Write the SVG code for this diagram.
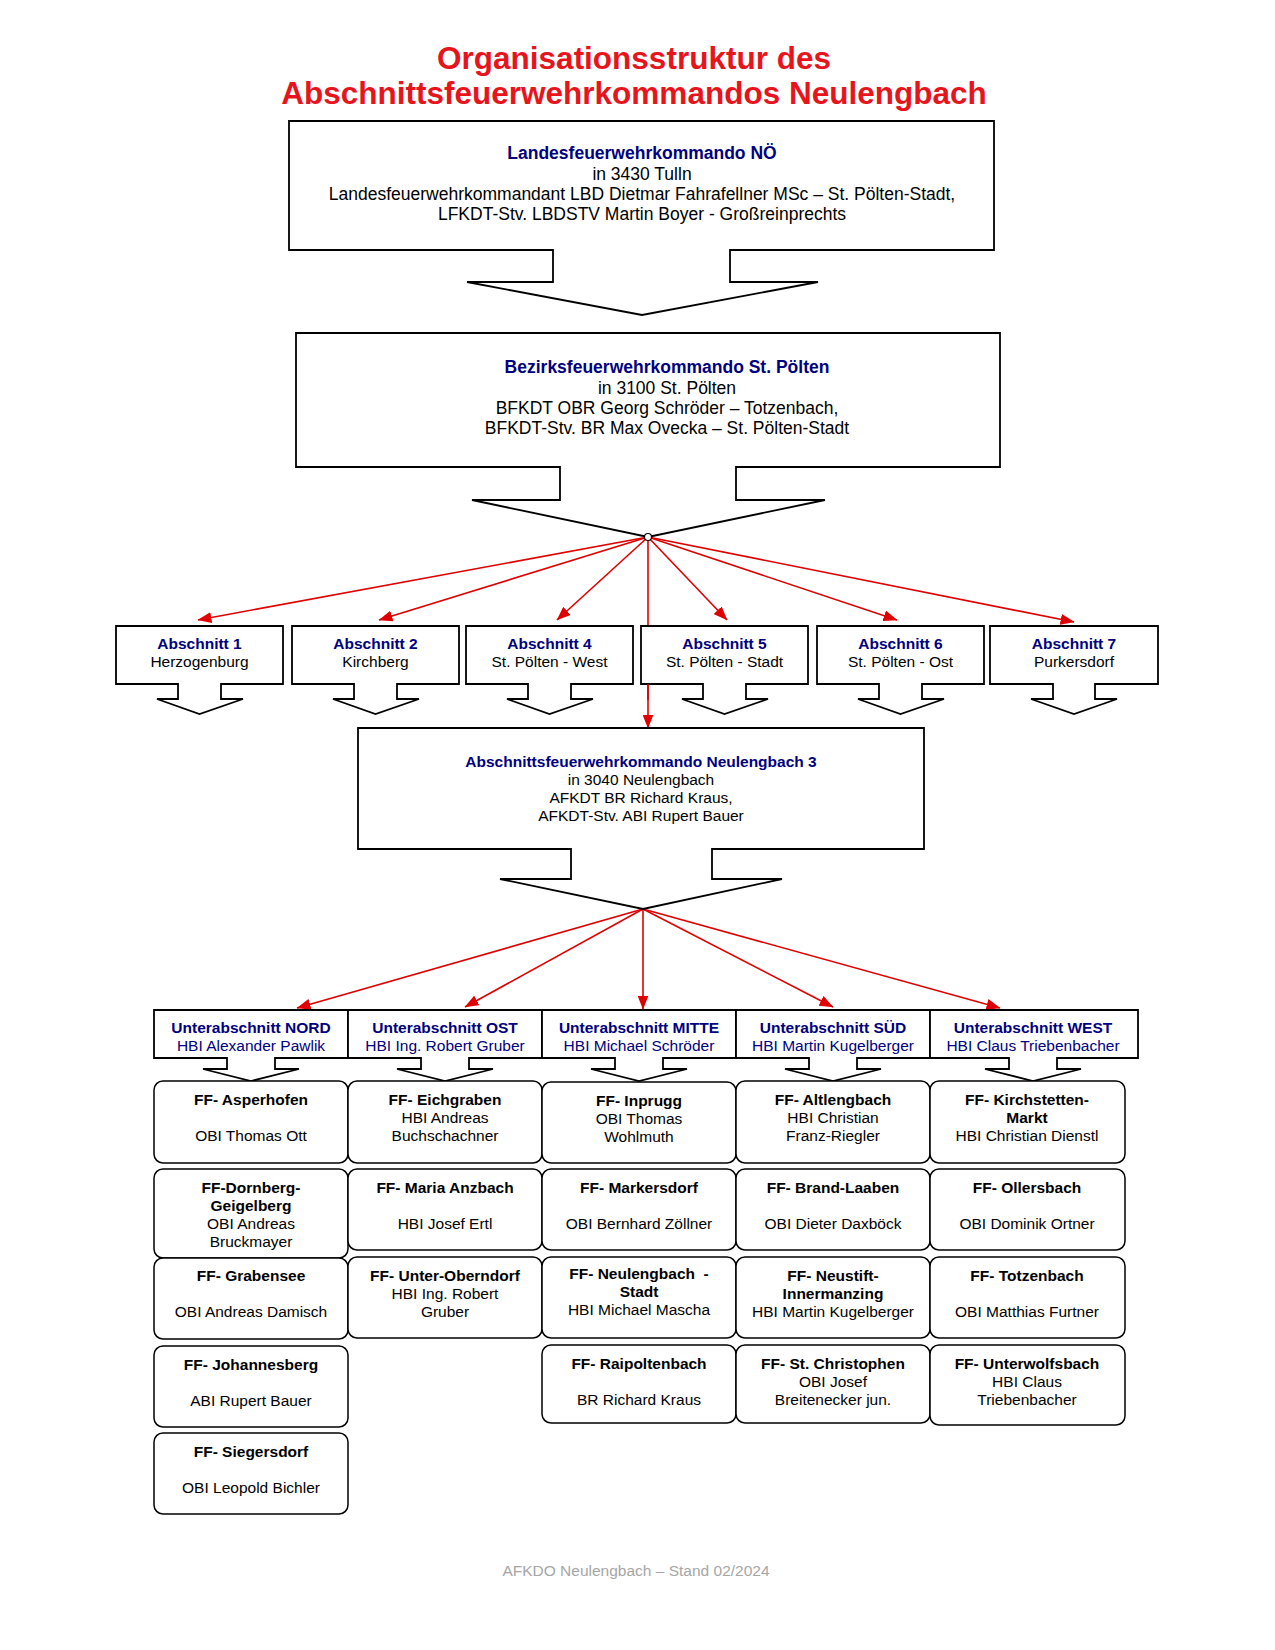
<svg xmlns="http://www.w3.org/2000/svg" width="1275" height="1650" viewBox="0 0 1275 1650">
<defs>
<marker id="ah" markerUnits="userSpaceOnUse" markerWidth="14" markerHeight="11" viewBox="0 0 14 11" refX="13.5" refY="5.5" orient="auto">
<path d="M0,0 L14,5.5 L0,11 Z" fill="#e00000"/>
</marker>
</defs>
<style>
text{font-family:"Liberation Sans",Arial,sans-serif;text-anchor:middle;fill:#000}
.title{font-size:31.5px;font-weight:bold;fill:#e8141c}
.big{font-size:17.5px}
.mid{font-size:15.5px}
.hd{font-weight:bold;fill:#000080}
.nv{fill:#000080}
.b{font-weight:bold}
.box{fill:#fff;stroke:#000;stroke-width:1.8;stroke-linejoin:miter}
.ff{fill:#fff;stroke:#000;stroke-width:1.5}
.red{fill:none;stroke:#e00000;stroke-width:1.6;marker-end:url(#ah)}
.foot{font-size:15.5px;fill:#a6a6a6}
</style>
<rect x="0" y="0" width="1275" height="1650" fill="#fff"/>

<g id="title">
<text class="title" x="634" y="69">Organisationsstruktur des</text>
<text class="title" x="634" y="104">Abschnittsfeuerwehrkommandos Neulengbach</text>
</g>

<g id="connectors">
<line class="red" x1="648" y1="537" x2="198" y2="620"/>
<line class="red" x1="648" y1="537" x2="379" y2="620"/>
<line class="red" x1="648" y1="537" x2="557" y2="620"/>
<line class="red" x1="648" y1="537" x2="727" y2="620"/>
<line class="red" x1="648" y1="537" x2="897" y2="620"/>
<line class="red" x1="648" y1="537" x2="1074" y2="622"/>
<line class="red" x1="648" y1="537" x2="648" y2="728"/>
<line class="red" x1="643" y1="909" x2="297" y2="1008"/>
<line class="red" x1="643" y1="909" x2="465" y2="1007"/>
<line class="red" x1="643" y1="909" x2="643" y2="1009"/>
<line class="red" x1="643" y1="909" x2="833" y2="1007"/>
<line class="red" x1="643" y1="909" x2="1000" y2="1008"/>
</g>

<g id="lfkdo">
<path class="box" d="M289,121 H994 V250 H730 V282 H818 L642,315 L467,282 H553 V250 H289 Z"/>
<text class="big hd" x="642" y="159">Landesfeuerwehrkommando NÖ</text>
<text class="big" x="642" y="180">in 3430 Tulln</text>
<text class="big" x="642" y="200">Landesfeuerwehrkommandant LBD Dietmar Fahrafellner MSc – St. Pölten-Stadt,</text>
<text class="big" x="642" y="220">LFKDT-Stv. LBDSTV Martin Boyer - Großreinprechts</text>
</g>

<g id="bfkdo">
<path class="box" d="M296,333 H1000 V467 H736 V500 H825 L648,537 L472,500 H560 V467 H296 Z"/>
<text class="big hd" x="667" y="373">Bezirksfeuerwehrkommando St. Pölten</text>
<text class="big" x="667" y="394">in 3100 St. Pölten</text>
<text class="big" x="667" y="414">BFKDT OBR Georg Schröder – Totzenbach,</text>
<text class="big" x="667" y="434">BFKDT-Stv. BR Max Ovecka – St. Pölten-Stadt</text>
</g>

<g id="abschnitt1">
<path class="box" d="M116,626 H283 V684 H221 V699 H243 L199.5,714 L157,699 H178 V684 H116 Z"/>
<text class="mid hd" x="199.5" y="649">Abschnitt 1</text>
<text class="mid" x="199.5" y="667">Herzogenburg</text>
</g>
<g id="abschnitt2">
<path class="box" d="M292,626 H459 V684 H397 V699 H419 L375.5,714 L333,699 H354 V684 H292 Z"/>
<text class="mid hd" x="375.5" y="649">Abschnitt 2</text>
<text class="mid" x="375.5" y="667">Kirchberg</text>
</g>
<g id="abschnitt4">
<path class="box" d="M466,626 H633 V684 H571 V699 H593 L549.5,714 L507,699 H528 V684 H466 Z"/>
<text class="mid hd" x="549.5" y="649">Abschnitt 4</text>
<text class="mid" x="549.5" y="667">St. Pölten - West</text>
</g>
<g id="abschnitt5">
<path class="box" d="M641,626 H808 V684 H746 V699 H768 L724.5,714 L682,699 H703 V684 H641 Z"/>
<text class="mid hd" x="724.5" y="649">Abschnitt 5</text>
<text class="mid" x="724.5" y="667">St. Pölten - Stadt</text>
</g>
<g id="abschnitt6">
<path class="box" d="M817,626 H984 V684 H922 V699 H944 L900.5,714 L858,699 H879 V684 H817 Z"/>
<text class="mid hd" x="900.5" y="649">Abschnitt 6</text>
<text class="mid" x="900.5" y="667">St. Pölten - Ost</text>
</g>
<g id="abschnitt7">
<path class="box" d="M990,626 H1158 V684 H1095 V699 H1117 L1074,714 L1031,699 H1053 V684 H990 Z"/>
<text class="mid hd" x="1074" y="649">Abschnitt 7</text>
<text class="mid" x="1074" y="667">Purkersdorf</text>
</g>

<g id="hub">
<line x1="648" y1="684" x2="648" y2="700" stroke="#e00000" stroke-width="1.6"/>
<circle cx="648" cy="537" r="3.5" fill="#fff" stroke="#000" stroke-width="1.2"/>
</g>

<g id="afkdo">
<path class="box" d="M358,728 H924 V849 H712 V879 H782 L643,909 L500,879 H571 V849 H358 Z"/>
<text class="mid hd" x="641" y="767">Abschnittsfeuerwehrkommando Neulengbach 3</text>
<text class="mid" x="641" y="785">in 3040 Neulengbach</text>
<text class="mid" x="641" y="803">AFKDT BR Richard Kraus,</text>
<text class="mid" x="641" y="821">AFKDT-Stv. ABI Rupert Bauer</text>
</g>

<g id="ua-nord">
<path class="box" d="M154,1010 H348 V1058 H275 V1069 H299 L251,1081 L203,1069 H227 V1058 H154 Z"/>
<text class="mid hd" x="251" y="1033">Unterabschnitt NORD</text>
<text class="mid nv" x="251" y="1051">HBI Alexander Pawlik</text>
</g>
<g id="ua-ost">
<path class="box" d="M348,1010 H542 V1058 H469 V1069 H493 L445,1081 L397,1069 H421 V1058 H348 Z"/>
<text class="mid hd" x="445" y="1033">Unterabschnitt OST</text>
<text class="mid nv" x="445" y="1051">HBI Ing. Robert Gruber</text>
</g>
<g id="ua-mitte">
<path class="box" d="M542,1010 H736 V1058 H663 V1069 H687 L639,1081 L591,1069 H615 V1058 H542 Z"/>
<text class="mid hd" x="639" y="1033">Unterabschnitt MITTE</text>
<text class="mid nv" x="639" y="1051">HBI Michael Schröder</text>
</g>
<g id="ua-sued">
<path class="box" d="M736,1010 H930 V1058 H857 V1069 H881 L833,1081 L785,1069 H809 V1058 H736 Z"/>
<text class="mid hd" x="833" y="1033">Unterabschnitt SÜD</text>
<text class="mid nv" x="833" y="1051">HBI Martin Kugelberger</text>
</g>
<g id="ua-west">
<path class="box" d="M930,1010 H1138 V1058 H1057 V1069 H1081 L1033,1081 L985,1069 H1009 V1058 H930 Z"/>
<text class="mid hd" x="1033" y="1033">Unterabschnitt WEST</text>
<text class="mid nv" x="1033" y="1051">HBI Claus Triebenbacher</text>
</g>

<!-- Row 1 -->
<g id="ff-asperhofen"><rect class="ff" x="154" y="1081" width="194" height="82" rx="9"/>
<text class="mid b" x="251" y="1105">FF- Asperhofen</text><text class="mid" x="251" y="1141">OBI Thomas Ott</text></g>
<g id="ff-eichgraben"><rect class="ff" x="348" y="1081" width="194" height="82" rx="9"/>
<text class="mid b" x="445" y="1105">FF- Eichgraben</text><text class="mid" x="445" y="1123">HBI Andreas</text><text class="mid" x="445" y="1141">Buchschachner</text></g>
<g id="ff-inprugg"><rect class="ff" x="542" y="1082" width="194" height="81" rx="9"/>
<text class="mid b" x="639" y="1106">FF- Inprugg</text><text class="mid" x="639" y="1124">OBI Thomas</text><text class="mid" x="639" y="1142">Wohlmuth</text></g>
<g id="ff-altlengbach"><rect class="ff" x="736" y="1081" width="194" height="82" rx="9"/>
<text class="mid b" x="833" y="1105">FF- Altlengbach</text><text class="mid" x="833" y="1123">HBI Christian</text><text class="mid" x="833" y="1141">Franz-Riegler</text></g>
<g id="ff-kirchstetten"><rect class="ff" x="930" y="1081" width="195" height="82" rx="9"/>
<text class="mid b" x="1027" y="1105">FF- Kirchstetten-</text><text class="mid b" x="1027" y="1123">Markt</text><text class="mid" x="1027" y="1141">HBI Christian Dienstl</text></g>

<!-- Row 2 -->
<g id="ff-dornberg"><rect class="ff" x="154" y="1169" width="194" height="89" rx="9"/>
<text class="mid b" x="251" y="1193">FF-Dornberg-</text><text class="mid b" x="251" y="1211">Geigelberg</text><text class="mid" x="251" y="1229">OBI Andreas</text><text class="mid" x="251" y="1247">Bruckmayer</text></g>
<g id="ff-maria-anzbach"><rect class="ff" x="348" y="1169" width="194" height="81" rx="9"/>
<text class="mid b" x="445" y="1193">FF- Maria Anzbach</text><text class="mid" x="445" y="1229">HBI Josef Ertl</text></g>
<g id="ff-markersdorf"><rect class="ff" x="542" y="1169" width="194" height="81" rx="9"/>
<text class="mid b" x="639" y="1193">FF- Markersdorf</text><text class="mid" x="639" y="1229">OBI Bernhard Zöllner</text></g>
<g id="ff-brand-laaben"><rect class="ff" x="736" y="1169" width="194" height="81" rx="9"/>
<text class="mid b" x="833" y="1193">FF- Brand-Laaben</text><text class="mid" x="833" y="1229">OBI Dieter Daxböck</text></g>
<g id="ff-ollersbach"><rect class="ff" x="930" y="1169" width="195" height="81" rx="9"/>
<text class="mid b" x="1027" y="1193">FF- Ollersbach</text><text class="mid" x="1027" y="1229">OBI Dominik Ortner</text></g>

<!-- Row 3 -->
<g id="ff-grabensee"><rect class="ff" x="154" y="1258" width="194" height="81" rx="9"/>
<text class="mid b" x="251" y="1281">FF- Grabensee</text><text class="mid" x="251" y="1317">OBI Andreas Damisch</text></g>
<g id="ff-unter-oberndorf"><rect class="ff" x="348" y="1257" width="194" height="81" rx="9"/>
<text class="mid b" x="445" y="1281">FF- Unter-Oberndorf</text><text class="mid" x="445" y="1299">HBI Ing. Robert</text><text class="mid" x="445" y="1317">Gruber</text></g>
<g id="ff-neulengbach"><rect class="ff" x="542" y="1257" width="194" height="81" rx="9"/>
<text class="mid b" x="639" y="1279">FF- Neulengbach&#160; -</text><text class="mid b" x="639" y="1297">Stadt</text><text class="mid" x="639" y="1315">HBI Michael Mascha</text></g>
<g id="ff-neustift"><rect class="ff" x="736" y="1257" width="194" height="81" rx="9"/>
<text class="mid b" x="833" y="1281">FF- Neustift-</text><text class="mid b" x="833" y="1299">Innermanzing</text><text class="mid" x="833" y="1317">HBI Martin Kugelberger</text></g>
<g id="ff-totzenbach"><rect class="ff" x="930" y="1257" width="195" height="81" rx="9"/>
<text class="mid b" x="1027" y="1281">FF- Totzenbach</text><text class="mid" x="1027" y="1317">OBI Matthias Furtner</text></g>

<!-- Row 4 -->
<g id="ff-johannesberg"><rect class="ff" x="154" y="1346" width="194" height="81" rx="9"/>
<text class="mid b" x="251" y="1370">FF- Johannesberg</text><text class="mid" x="251" y="1406">ABI Rupert Bauer</text></g>
<g id="ff-raipoltenbach"><rect class="ff" x="542" y="1345" width="194" height="78" rx="9"/>
<text class="mid b" x="639" y="1369">FF- Raipoltenbach</text><text class="mid" x="639" y="1405">BR Richard Kraus</text></g>
<g id="ff-st-christophen"><rect class="ff" x="736" y="1345" width="194" height="78" rx="9"/>
<text class="mid b" x="833" y="1369">FF- St. Christophen</text><text class="mid" x="833" y="1387">OBI Josef</text><text class="mid" x="833" y="1405">Breitenecker jun.</text></g>
<g id="ff-unterwolfsbach"><rect class="ff" x="930" y="1345" width="195" height="80" rx="9"/>
<text class="mid b" x="1027" y="1369">FF- Unterwolfsbach</text><text class="mid" x="1027" y="1387">HBI Claus</text><text class="mid" x="1027" y="1405">Triebenbacher</text></g>

<!-- Row 5 -->
<g id="ff-siegersdorf"><rect class="ff" x="154" y="1433" width="194" height="81" rx="9"/>
<text class="mid b" x="251" y="1457">FF- Siegersdorf</text><text class="mid" x="251" y="1493">OBI Leopold Bichler</text></g>

<g id="footer">
<text class="foot" x="636" y="1576">AFKDO Neulengbach – Stand 02/2024</text>
</g>
</svg>
